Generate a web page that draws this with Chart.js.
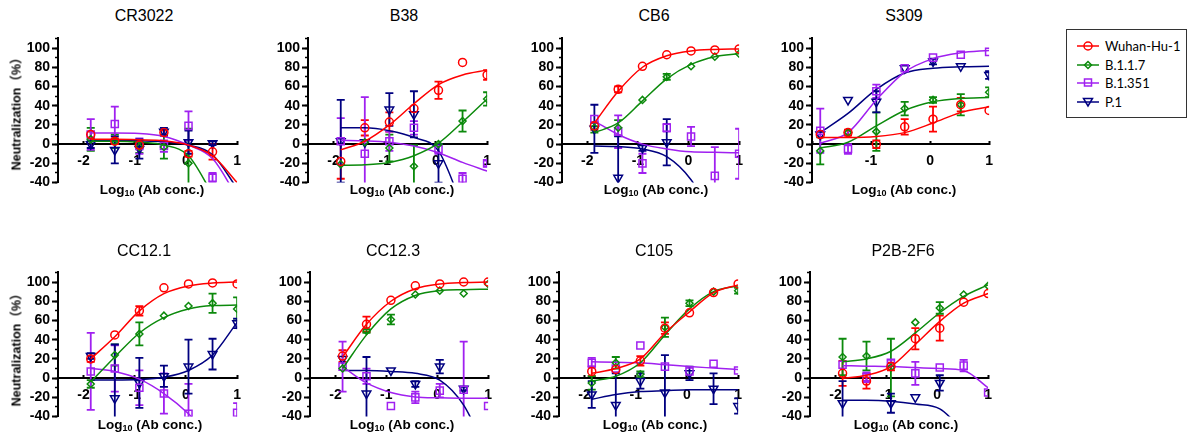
<!DOCTYPE html>
<html>
<head>
<meta charset="utf-8">
<script src="https://cdn.jsdelivr.net/npm/chart.js@4.4.1/dist/chart.umd.min.js"></script>
<style>
  html, body { margin: 0; padding: 0; background: #fff; }
  body { width: 1187px; height: 432px; position: relative; overflow: hidden; font-family: 'Liberation Sans', Arial, sans-serif; color: #000; }
  .panel { position: absolute; }
  .title { position: absolute; transform: translate(-50%, -50%); font-size: 16px; white-space: nowrap; }
  .xtitle { position: absolute; transform: translate(-50%, -50%); font-size: 13.5px; font-weight: bold; white-space: nowrap; }
  .xtitle sub { font-size: 9px; vertical-align: -2px; line-height: 0; }
  .ytitle { position: absolute; transform: translate(-50%, -50%) rotate(-90deg); font-size: 12.5px; font-weight: bold; white-space: nowrap; font-family: 'Liberation Sans', 'Noto Sans CJK SC', sans-serif; }
  .legend { position: absolute; left: 1066px; top: 29px; width: 121px; height: 89px; box-sizing: border-box; border: 1px solid #333; }
  .legend .row { position: absolute; left: 10px; height: 12px; display: flex; align-items: center; font-family: Lato, 'Open Sans', sans-serif; font-size: 13px; }
  .legend svg { margin-right: 6px; }
</style>
</head>
<body>
<script>
// log10 antibody concentration (3-fold dilutions)
const conc = [-1.86, -1.39, -0.91, -0.43, 0.05, 0.52, 1.0];
const variants = ['Wuhan-Hu-1', 'B.1.1.7', 'B.1.351', 'P.1'];
const colors = ['#ff0000', '#0c8a0c', '#a020f0', '#000080'];
const xTicks = [-2, -1, 0, 1];
const yTicks = [-40, -20, 0, 20, 40, 60, 80, 100];

// rows: Wuhan-Hu-1, B.1.1.7, B.1.351, P.1
const cr3022Mean = [[10, 3, -1, 12, -10, -8, null], [5, 3, -3, -3, -20, null, null], [10, 21, -2, -2, 19, -35, null], [0, -6, -5, 13, 2, 1, null]];
const cr3022Sd = [[3, 3, 3, 2, 3, 8, 0], [12, 7, 6, 12, 36, 0, 0], [16, 18, 8, 6, 15, 5, 0], [4, 14, 10, 4, 12, 2, 0]];
const cr3022Fit = [[5, 5, 4.5, 3.5, -1, -12, -40], [3, 3, 2, -1, -12, -52], [11.5, 11.5, 11, 8, -1, -15, -55], [4, 4, 3.5, 2.5, -1, -11, -46]];

const b38Mean = [[-18, 17, 23, 37, 56, 85, 72], [-21, 2, -4, -23, 0, 24, 47], [3, -10, 3, 17, -5, -36, -20], [3, 2, 36, 31, -20, null, null]];
const b38Sd = [[18, 8, 10, 0, 9, 0, 5], [0, 0, 14, 22, 0, 11, 7], [24, 59, 10, 7, 5, 6, 3], [43, 0, 17, 24, 20, 0, 0]];
const b38Fit = [[-6, 3, 20, 42, 62, 72, 77], [-22, -21.5, -19, -12, 1, 23, 47], [4, 3.5, 2, -2, -9, -19, -28], [17, 17, 14, 7, -7, -65]];

const cb6Mean = [[19, 57, 81, 93, 97, 98, 99], [17, 17, 46, 70, 81, 91, 94], [26, 13, -20, 17, 8, -33, -10], [16, -35, -4, 2, null, null, null]];
const cb6Sd = [[4, 3, 0, 0, 0, 0, 0], [5, 8, 0, 3, 0, 0, 0], [0, 17, 10, 4, 10, 30, 26], [25, 43, 3, 24, 0, 0, 0]];
const cb6Fit = [[22, 55, 80, 92, 97, 98.5, 99], [12, 22, 45, 68, 83, 91, 94], [24, 10, 0, -5, -8, -8.5, -9], [-2, -2.5, -5, -13, -37, -80]];

const s309Mean = [[10, 12, 0, 18, 26, 41, 35], [-7, 12, 13, 37, 46, 41, 54], [14, -5, 55, 79, 90, 93, 96], [10, 46, 44, 79, 86, 81, 72]];
const s309Sd = [[0, 3, 4, 8, 13, 7, 0], [14, 0, 20, 7, 3, 11, 5], [23, 5, 7, 0, 0, 0, 0], [0, 0, 11, 0, 3, 0, 4]];
const s309Fit = [[7, 7, 8, 12, 22, 33, 39], [-4, 2, 19, 35, 44, 47.5, 48.5], [1, 12, 46, 75, 89, 95, 97.5], [12, 32, 57, 74, 79, 80.5, 81]];

const cc121Mean = [[20, 45, 70, 94, 98, 99, 98], [-6, 24, 46, 65, 75, 78, 72], [7, 10, -10, -16, -37, null, -36], [23, -21, -5, 2, 12, 25, 57]];
const cc121Sd = [[3, 0, 5, 0, 0, 0, 0], [4, 11, 12, 0, 0, 10, 12], [40, 24, 18, 21, 31, 0, 10], [3, 56, 26, 11, 28, 16, 5]];
const cc121Fit = [[20, 43, 70, 88, 96, 99, 100], [-4, 22, 47, 63, 72, 75.5, 76], [10, 7, -1, -16, -37, -65], [-2, -2, -1.5, 1, 8, 24, 58]];

const cc123Mean = [[23, 56, 81, 96, 98, 100, 100], [10, 49, 61, 87, 91, 88, 98], [12, 2, -29, -20, -13, -12, -29], [20, -16, 8, -6, 12, -11, null]];
const cc123Sd = [[6, 8, 0, 0, 0, 0, 0], [0, 2, 5, 0, 0, 0, 0], [26, 8, 0, 6, 7, 50, 0], [0, 38, 0, 3, 7, 2, 0]];
const cc123Fit = [[22, 56, 80, 93, 98, 99.5, 100], [10, 45, 72, 86, 91, 92, 92.5], [12, -5, -15, -19.5, -20.5, -21, -21], [8, 8, 7, 5, -2, -28, -80]];

const c105Mean = [[7, 9, 18, 52, 68, 89, 98], [-5, 16, 4, 53, 78, 90, 91], [16, 10, 34, 12, 7, 15, 8], [-17, -28, -3, -15, 5, -11, -29]];
const c105Sd = [[5, 0, 5, 6, 0, 0, 0], [7, 6, 3, 10, 3, 0, 3], [5, 0, 0, 0, 0, 0, 0], [14, 33, 8, 39, 7, 16, 8]];
const c105Fit = [[5, 10, 20, 47, 69, 89, 97], [-3, 2, 16, 45, 72, 90, 96], [17, 16.5, 16, 14, 12, 10.5, 9], [-22, -17, -14, -13, -12, -12, -12]];

const p2bMean = [[5, -3, 12, 41, 52, 79, 88], [22, 23, 11, 58, 73, 87, 96], [14, 1, 16, 5, 11, 13, -15], [-26, null, -26, -20, -5, null, null]];
const p2bSd = [[13, 8, 4, 11, 13, 0, 0], [19, 15, 30, 0, 6, 0, 0], [0, 5, 3, 12, 0, 6, 0], [23, 0, 10, 0, 8, 0, 0]];
const p2bFit = [[0, 3, 12, 35, 59, 78, 88], [17, 20, 28, 47, 68, 85, 97], [13, 12.5, 12, 11, 10, 8, -10], [-23, -23, -24, -27, -32, -55]];

// L/R = pixel of y axis and of x=1, T/B = pixel of y=110 and y=-40
const panels = [
  { name: 'CR3022', mean: cr3022Mean, sd: cr3022Sd, fit: cr3022Fit, xMin: -2.5, L: 58, R: 246, T: 36, B: 185, tx: 144, ty: 16, xt: [152, 189], yt: [15, 111] },
  { name: 'B38', mean: b38Mean, sd: b38Sd, fit: b38Fit, xMin: -2.5, L: 308, R: 496, T: 36, B: 185, tx: 404, ty: 16, xt: [402, 189] },
  { name: 'CB6', mean: cb6Mean, sd: cb6Sd, fit: cb6Fit, xMin: -2.5, L: 562, R: 748, T: 36, B: 185, tx: 654, ty: 16, xt: [656, 189] },
  { name: 'S309', mean: s309Mean, sd: s309Sd, fit: s309Fit, xMin: -2, L: 812, R: 998, T: 36, B: 185, tx: 904, ty: 16, xt: [904, 189] },
  { name: 'CC12.1', mean: cc121Mean, sd: cc121Sd, fit: cc121Fit, xMin: -2.5, L: 58, R: 246, T: 270, B: 419, tx: 144, ty: 251, xt: [150, 424], yt: [15, 347] },
  { name: 'CC12.3', mean: cc123Mean, sd: cc123Sd, fit: cc123Fit, xMin: -2.5, L: 310, R: 497, T: 270, B: 419, tx: 393, ty: 251, xt: [402, 424] },
  { name: 'C105', mean: c105Mean, sd: c105Sd, fit: c105Fit, xMin: -2.5, L: 559, R: 747, T: 270, B: 419, tx: 654, ty: 251, xt: [655, 424] },
  { name: 'P2B-2F6', mean: p2bMean, sd: p2bSd, fit: p2bFit, xMin: -2.5, L: 810, R: 997, T: 270, B: 419, tx: 903, ty: 251, xt: [906, 424] }
];

const markers = [
  { style: 'circle', r: 4, rot: 0 },
  { style: 'rectRot', r: 3.5, rot: 0 },
  { style: 'rect', r: 5, rot: 0 },
  { style: 'triangle', r: 5, rot: 180 }
];

const tickFont = { family: 'Liberation Sans', weight: 'bold', size: 14 };

const errorBars = {
  id: 'errorBars',
  beforeDatasetsDraw(chart) {
    const { ctx, chartArea, scales: { x, y } } = chart;
    ctx.save();
    ctx.beginPath();
    ctx.rect(chartArea.left, chartArea.top, chartArea.width, chartArea.height);
    ctx.clip();
    chart.data.datasets.forEach(ds => {
      if (!ds.sd) return;
      ctx.strokeStyle = ds.borderColor;
      ctx.lineWidth = 1.8;
      ds.data.forEach((p, i) => {
        const sd = ds.sd[i];
        if (p.y == null || !sd) return;
        const px = x.getPixelForValue(p.x);
        const top = y.getPixelForValue(p.y + sd);
        const bot = y.getPixelForValue(p.y - sd);
        ctx.beginPath();
        ctx.moveTo(px, top); ctx.lineTo(px, bot);
        ctx.moveTo(px - 4, top); ctx.lineTo(px + 4, top);
        ctx.moveTo(px - 4, bot); ctx.lineTo(px + 4, bot);
        ctx.stroke();
      });
    });
    ctx.restore();
  }
};

function addText(cls, html, x, y) {
  const d = document.createElement('div');
  d.className = cls;
  d.innerHTML = html;
  d.style.left = x + 'px';
  d.style.top = y + 'px';
  document.body.appendChild(d);
}

function makePanel(p) {
  const wrap = document.createElement('div');
  wrap.className = 'panel';
  wrap.style.left = (p.L - 50) + 'px';
  wrap.style.top = (p.T - 8) + 'px';
  const canvas = document.createElement('canvas');
  canvas.width = p.R - p.L + 58;
  canvas.height = p.B - p.T + 16;
  wrap.appendChild(canvas);
  document.body.appendChild(wrap);

  const datasets = [];
  variants.forEach((v, s) => {
    datasets.push({
      label: v,
      data: conc.map((x, i) => ({ x, y: p.mean[s][i] })),
      sd: p.sd[s],
      borderColor: colors[s],
      backgroundColor: 'rgba(0,0,0,0)',
      pointStyle: markers[s].style,
      pointRadius: markers[s].r,
      pointRotation: markers[s].rot,
      pointBorderWidth: 1.5,
      clip: 0
    });
    datasets.push({
      label: v + ' fit',
      data: p.fit[s].map((y, i) => ({ x: conc[i], y })),
      showLine: true,
      borderColor: colors[s],
      borderWidth: 1.5,
      pointRadius: 0,
      cubicInterpolationMode: 'monotone',
      clip: 0
    });
  });

  new Chart(canvas, {
    type: 'scatter',
    data: { datasets },
    options: {
      responsive: false,
      animation: false,
      events: [],
      layout: { padding: { left: 0, top: 8, right: 8, bottom: 8 } },
      plugins: { legend: { display: false }, tooltip: { enabled: false } },
      scales: {
        x: {
          type: 'linear', min: p.xMin, max: 1, position: { y: 0 },
          border: { color: '#000', width: 2 },
          grid: { drawOnChartArea: false, tickLength: -4, tickWidth: 2, tickColor: '#000' },
          afterBuildTicks: s => { s.ticks = xTicks.map(v => ({ value: v })); },
          ticks: { padding: 13, color: '#000', font: tickFont, maxRotation: 0, autoSkip: false,
                   callback: v => (v === p.xMin ? '' : v) }
        },
        y: {
          type: 'linear', min: -40, max: 110, position: 'left',
          afterFit: s => { s.width = 50; },
          afterBuildTicks: s => { s.ticks = yTicks.map(v => ({ value: v })); },
          border: { color: '#000', width: 2 },
          grid: { drawOnChartArea: false, tickLength: 6, tickWidth: 2, tickColor: '#000' },
          ticks: { padding: 2, color: '#000', font: tickFont }
        },
        yMinor: {
          type: 'linear', axis: 'y', min: -40, max: 110, position: { x: p.xMin },
          border: { display: false },
          grid: { drawOnChartArea: false, tickLength: 3, tickWidth: 1.5, tickColor: '#000' },
          ticks: { stepSize: 10, includeBounds: false, display: false }
        }
      }
    },
    plugins: [errorBars]
  });

  addText('title', p.name, p.tx, p.ty);
  addText('xtitle', 'Log<sub>10</sub> (Ab conc.)', p.xt[0], p.xt[1]);
  if (p.yt) addText('ytitle', 'Neutralization（%）', p.yt[0], p.yt[1]);
}

panels.forEach(makePanel);

// legend
const legend = document.createElement('div');
legend.className = 'legend';
const shapes = [
  c => `<circle cx="11" cy="6" r="4" fill="none" stroke="${c}" stroke-width="1.5"/>`,
  c => `<polygon points="11,2.5 14.5,6 11,9.5 7.5,6" fill="none" stroke="${c}" stroke-width="1.5"/>`,
  c => `<rect x="7.5" y="2" width="7" height="7" fill="none" stroke="${c}" stroke-width="1.5"/>`,
  c => `<polygon points="6.5,2.5 15.5,2.5 11,10" fill="none" stroke="${c}" stroke-width="1.5"/>`
];
variants.forEach((v, s) => {
  const row = document.createElement('div');
  row.className = 'row';
  row.style.top = (10 + s * 18.5) + 'px';
  row.innerHTML = `<svg width="22" height="12"><line x1="0" y1="6" x2="22" y2="6" stroke="${colors[s]}" stroke-width="1.5"/>${shapes[s](colors[s])}</svg><span>${v}</span>`;
  legend.appendChild(row);
});
document.body.appendChild(legend);
</script>
</body>
</html>
